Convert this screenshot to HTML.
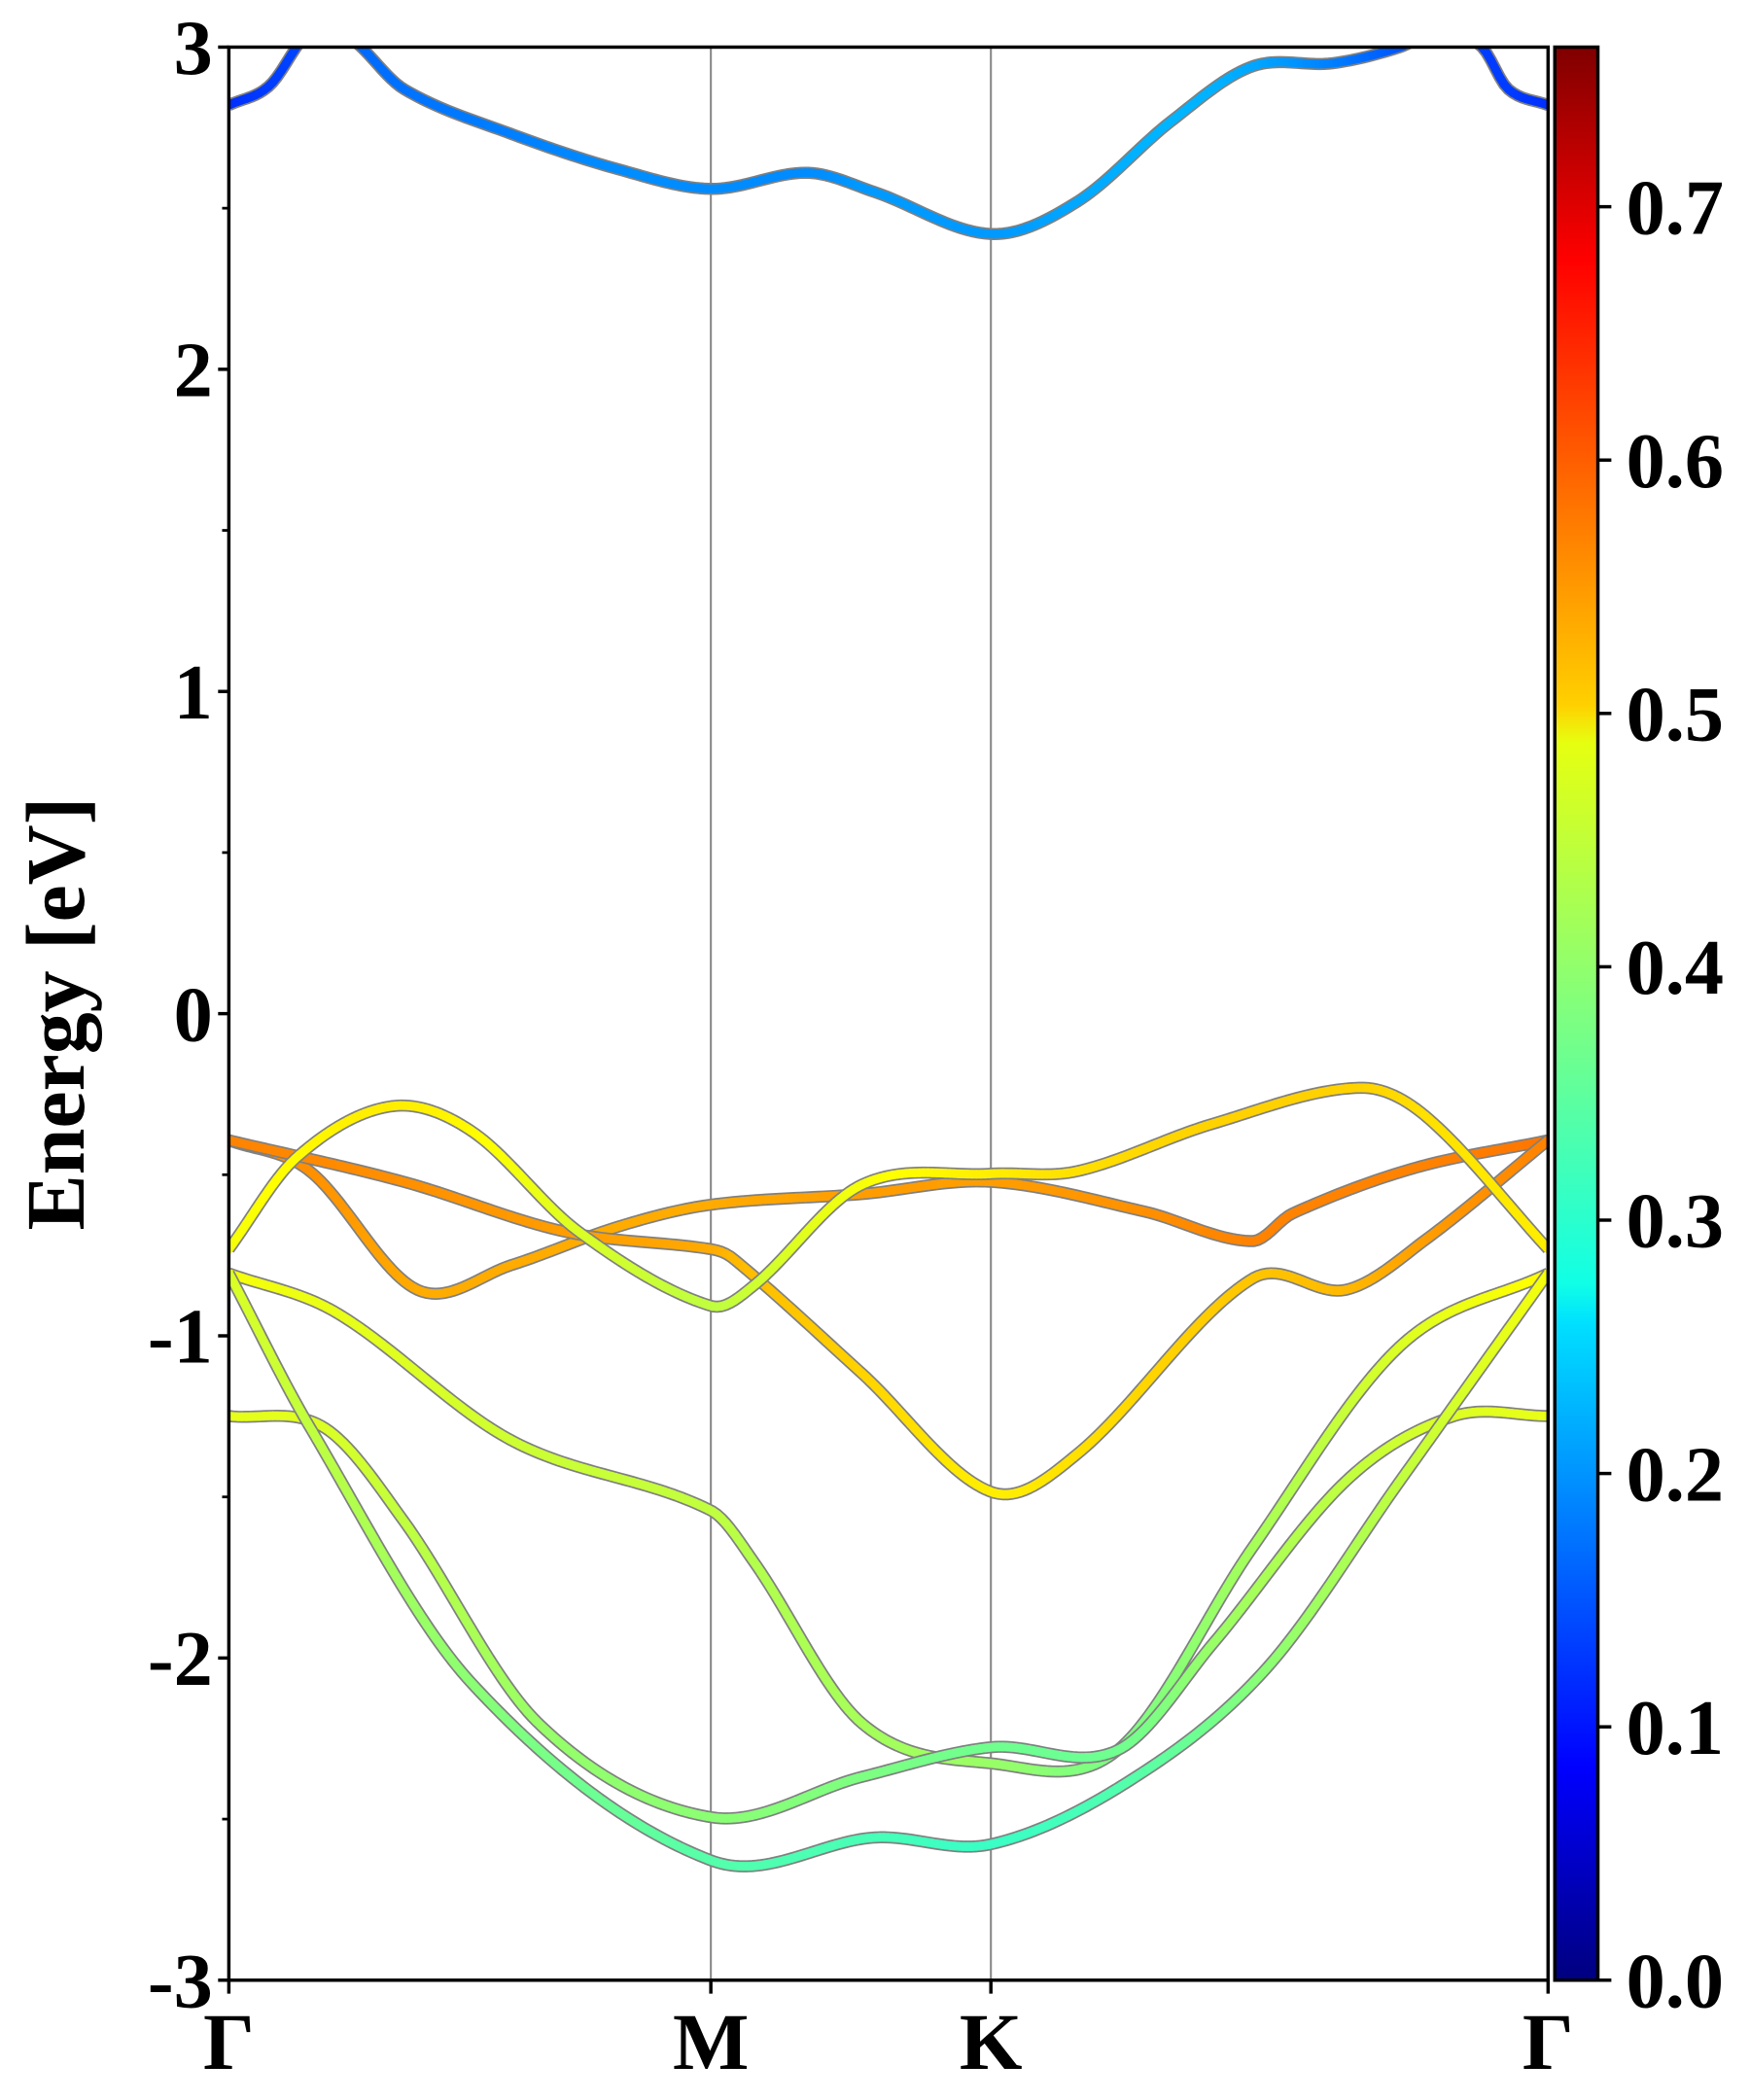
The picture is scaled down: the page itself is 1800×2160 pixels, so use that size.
<!DOCTYPE html>
<html><head><meta charset="utf-8"><style>
html,body{margin:0;padding:0;background:#fff;}
svg{display:block;}
text{font-family:"Liberation Serif",serif;font-weight:bold;fill:#000;}
</style></head><body>
<svg id="chart" width="1800" height="2160" viewBox="0 0 1300 1560" xmlns="http://www.w3.org/2000/svg">
<defs><clipPath id="pc"><rect x="170" y="35" width="980" height="1436"/></clipPath>
<linearGradient id="jet" x1="0" y1="1" x2="0" y2="0">
<stop offset="0" stop-color="#00007f"/><stop offset="0.11" stop-color="#0000ff"/><stop offset="0.34" stop-color="#00e0ff"/><stop offset="0.36" stop-color="#10ffe6"/><stop offset="0.5" stop-color="#7fff7f"/><stop offset="0.64" stop-color="#e6ff10"/><stop offset="0.66" stop-color="#ffd000"/><stop offset="0.89" stop-color="#ff0000"/><stop offset="1" stop-color="#7f0000"/></linearGradient></defs>
<g id="grid"></g>
<g id="bands" clip-path="url(#pc)"></g>
<rect x="170" y="35" width="980" height="1436" fill="none" stroke="#000" stroke-width="2.5"/>
<g id="axes"></g>
<text x="62" y="753" font-size="62" text-anchor="middle" transform="rotate(-90 62 753)">Energy [eV]</text>
<rect x="1155" y="35" width="32" height="1436" fill="url(#jet)" stroke="#000" stroke-width="2.5"/>
<g id="cbar"></g>
</svg>
<script>
const kLabels=["Γ","M","K","Γ"];
const kPos=[0,1,1.581,2.737];
const yTicks=[3,2,1,0,-1,-2,-3];
const cTicks=[0.0,0.1,0.2,0.3,0.4,0.5,0.6,0.7];
const b1k=[0,0.084,0.17,0.25,0.363,0.587,0.81,1,1.2,1.34,1.581,1.76,1.955,2.123,2.29,2.43,2.52,2.6,2.654,2.737];
const b1E=[2.82,2.88,3.05,3.03,2.87,2.73,2.62,2.56,2.61,2.55,2.42,2.52,2.77,2.94,2.95,3.0,3.06,3.0,2.87,2.82];
const b1c=[0.13,0.14,0.15,0.17,0.18,0.19,0.2,0.2,0.2,0.21,0.21,0.22,0.23,0.22,0.19,0.16,0.15,0.14,0.14,0.13];
const b2k=[0,0.168,0.391,0.587,0.81,1,1.313,1.581,1.899,2.123,2.207,2.458,2.737];
const b2E=[-0.393,-0.489,-0.857,-0.78,-0.66,-0.593,-0.56,-0.522,-0.614,-0.706,-0.62,-0.48,-0.393];
const b2c=[0.57,0.56,0.54,0.54,0.54,0.54,0.55,0.55,0.56,0.57,0.57,0.57,0.58];
const b3k=[0,0.363,0.698,1,1.047,1.313,1.581,1.76,2.123,2.318,2.486,2.737];
const b3E=[-0.393,-0.522,-0.677,-0.731,-0.761,-1.116,-1.484,-1.367,-0.823,-0.857,-0.698,-0.393];
const b3c=[0.57,0.56,0.55,0.54,0.53,0.51,0.49,0.5,0.52,0.53,0.55,0.57];
const b4k=[0,0.14,0.335,0.503,0.726,1,1.089,1.313,1.581,1.76,2.039,2.346,2.486,2.737];
const b4E=[-0.731,-0.447,-0.288,-0.364,-0.677,-0.907,-0.844,-0.531,-0.497,-0.489,-0.343,-0.23,-0.322,-0.731];
const b4c=[0.47,0.48,0.49,0.48,0.45,0.43,0.44,0.47,0.49,0.5,0.51,0.51,0.5,0.49];
const b5k=[0,0.223,0.587,1,1.089,1.313,1.581,1.844,2.123,2.43,2.737];
const b5E=[-0.806,-0.928,-1.325,-1.542,-1.701,-2.202,-2.327,-2.286,-1.659,-1.032,-0.806];
const b5c=[0.47,0.46,0.44,0.43,0.42,0.41,0.4,0.38,0.41,0.45,0.48];
const b6k=[0,0.196,0.363,0.642,1,1.313,1.581,1.844,2.044,2.318,2.542,2.737];
const b6E=[-1.249,-1.283,-1.575,-2.202,-2.494,-2.369,-2.277,-2.286,-1.951,-1.45,-1.249,-1.249];
const b6c=[0.46,0.45,0.43,0.4,0.39,0.38,0.37,0.37,0.4,0.43,0.45,0.46];
const b7k=[0,0.168,0.503,1,1.341,1.581,1.872,2.151,2.43,2.737];
const b7E=[-0.806,-1.283,-2.077,-2.628,-2.557,-2.578,-2.378,-2.035,-1.45,-0.806];
const b7c=[0.45,0.43,0.39,0.35,0.34,0.33,0.35,0.39,0.43,0.47];
const bands=[[b1k,b1E,b1c],[b2k,b2E,b2c],[b3k,b3E,b3c],[b4k,b4E,b4c],[b5k,b5E,b5c],[b6k,b6E,b6c],[b7k,b7E,b7c]];
const X0=170,X1=1150,Y0=35,Y1=1471,KMAX=2.737,CMAX=0.763;
const sx=k=>X0+(k/KMAX)*(X1-X0);
const sy=e=>Y1-(e+3)/6*(Y1-Y0);
const sc=c=>Y1-(c/CMAX)*(Y1-Y0);
const NS="http://www.w3.org/2000/svg";
function jet(v){v=Math.max(0,Math.min(1,v));
 const f=t=>Math.round(255*Math.max(0,Math.min(1,1.5-Math.abs(4*v-t))));
 return `rgb(${f(3)},${f(2)},${f(1)})`;}
function el(t,a,p){const e=document.createElementNS(NS,t);for(const k in a)e.setAttribute(k,a[k]);p.appendChild(e);return e;}
function interp(ks,vs,k){let i=0;while(i<ks.length-2&&k>ks[i+1])i++;
 const p0=vs[Math.max(0,i-1)],p1=vs[i],p2=vs[i+1],p3=vs[Math.min(vs.length-1,i+2)];
 const t=(k-ks[i])/(ks[i+1]-ks[i]);
 const h0=ks[Math.max(0,i-1)],h3=ks[Math.min(ks.length-1,i+2)];
 const m1=(p2-p0)/((ks[i+1]-h0)||1)*(ks[i+1]-ks[i]);
 const m2=(p3-p1)/((h3-ks[i])||1)*(ks[i+1]-ks[i]);
 const t2=t*t,t3=t2*t;
 return (2*t3-3*t2+1)*p1+(t3-2*t2+t)*m1+(-2*t3+3*t2)*p2+(t3-t2)*m2;}
const grid=document.getElementById('grid');
kPos.slice(1,3).forEach(k=>{const l=el('line',{x1:sx(k),x2:sx(k),y1:Y0,y2:Y1,stroke:'#888',"stroke-width":1.5},grid);

});
const bg=document.getElementById('bands');
bands.forEach((b,bi)=>{const [ks,es,cs]=b;const N=300;const pts=[];
 for(let i=0;i<=N;i++){const k=KMAX*i/N;pts.push([k,interp(ks,es,k),interp(ks,cs,k)]);}
 const g=el('g',{},bg);
 
 
 el('path',{d:'M'+pts.map(p=>sx(p[0])+','+sy(p[1])).join('L'),fill:'none',stroke:'#808080',"stroke-width":9,"stroke-linejoin":'round'},g);
 for(let i=0;i<N;i++){const a=pts[i],c=pts[i+1];
  el('line',{x1:sx(a[0]),y1:sy(a[1]),x2:sx(c[0]),y2:sy(c[1]),stroke:jet(a[2]/CMAX),"stroke-width":6.5,"stroke-linecap":'round'},g);}
});
const ax=document.getElementById('axes');
yTicks.forEach(v=>{el('line',{x1:X0-8,x2:X0,y1:sy(v),y2:sy(v),stroke:'#000',"stroke-width":2.5},ax);
 const t=el('text',{x:X0-12,y:sy(v)+20,"font-size":58,"text-anchor":'end'},ax);t.textContent=v;
 
 });
[-2.5,-1.5,-0.5,0.5,1.5,2.5].forEach(v=>el('line',{x1:X0-5,x2:X0,y1:sy(v),y2:sy(v),stroke:'#000',"stroke-width":2},ax));
kPos.forEach((k,i)=>{el('line',{x1:sx(k),x2:sx(k),y1:Y1,y2:Y1+10,stroke:'#000',"stroke-width":2.5},ax);
 const t=el('text',{x:sx(k),y:Y1+66,"font-size":60,"text-anchor":'middle'},ax);t.textContent=kLabels[i];
 
 });
const cb=document.getElementById('cbar');
cTicks.forEach(v=>{el('line',{x1:1187,x2:1197,y1:sc(v),y2:sc(v),stroke:'#000',"stroke-width":2.5},cb);
 const t=el('text',{x:1208,y:sc(v)+20,"font-size":58},cb);t.textContent=v.toFixed(1);
 
 });
</script>
</body></html>
